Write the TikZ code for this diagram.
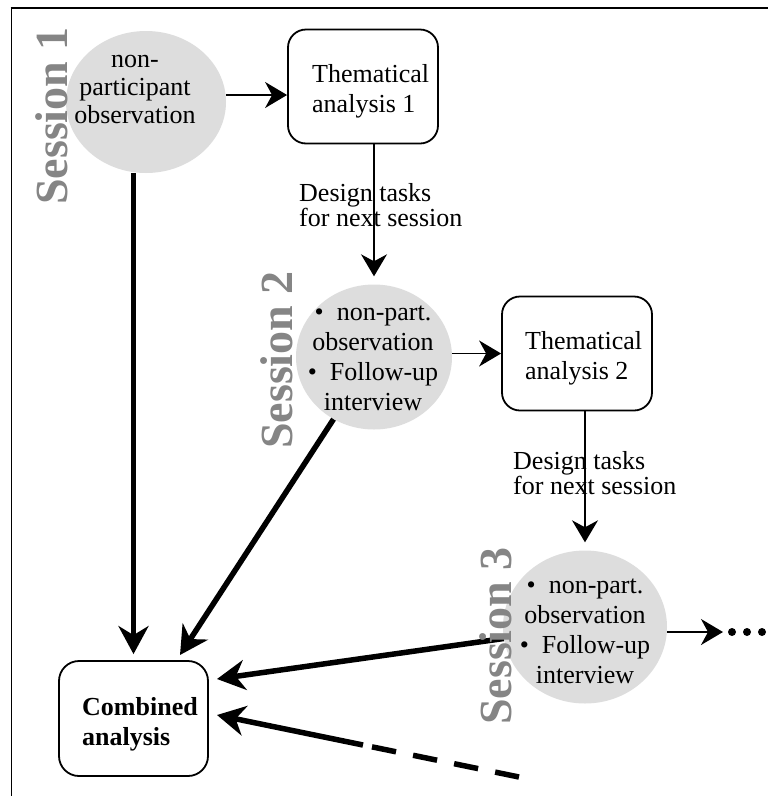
\documentclass[tikz,border=0pt]{standalone}
\usepackage{fontspec}
\setmainfont{Liberation Serif}
\usetikzlibrary{arrows.meta,shapes.geometric}
\definecolor{ellgray}{HTML}{DDDDDD}
\definecolor{sesgray}{HTML}{858585}
\begin{document}
\begin{tikzpicture}[x=1pt,y=-1pt,
  ell/.style={ellipse, fill=ellgray, inner sep=0pt},
  box/.style={draw, line width=1.8pt, rounded corners=18pt, inner sep=0pt, minimum width=150pt, minimum height=114pt},
  txt/.style={inner sep=0pt, font=\fontsize{26}{30}\selectfont},
  lbl/.style={inner sep=0pt, anchor=west, align=left, font=\fontsize{26}{25}\selectfont},
  ses/.style={inner sep=0pt, rotate=90, text=sesgray, font=\fontsize{46}{46}\selectfont\bfseries},
  thinarr/.style={line width=1.5pt, -{Stealth[length=22pt,width=26pt,inset=7pt]}},
  thickarr/.style={line width=5.5pt, -{Stealth[length=28pt,width=30pt,inset=9pt]}},
]
\useasboundingbox (0,0) rectangle (768,796);
\fill[white] (0,0) rectangle (768,796);
% frame
\draw[line width=2.5pt] (10.5,8) -- (768,8);
\draw[line width=1.8pt] (11.5,7) -- (11.5,796);

% ellipses
\node[ell, minimum width=160pt, minimum height=142pt] (e1) at (146,102) {};
\node[ell, minimum width=156pt, minimum height=145pt] (e2) at (374,357) {};
\node[ell, minimum width=164pt, minimum height=153pt] (e3) at (585,627) {};

% boxes
\node[box] (t1) at (363,86.5) {};
\node[box] (t2) at (577,353.5) {};
\node[box, rounded corners=20pt, minimum width=149pt, minimum height=115pt] (comb) at (133.5,718.5) {};

% texts
\node[txt, align=center, font=\fontsize{26}{28}\selectfont] (e1t) at (135,89) {non-\\participant\\observation};
\node[txt, align=center] (e2t) at (373,358) {\textbullet\ \ non-part.\\observation\\\textbullet\ \ Follow-up\\interview};
\node[txt, align=center] (e3t) at (585,631) {\textbullet\ \ non-part.\\observation\\\textbullet\ \ Follow-up\\interview};
\node[txt, anchor=west, align=left] (t1t) at (312,91) {Thematical\\analysis 1};
\node[txt, anchor=west, align=left] (t2t) at (525,358) {Thematical\\analysis 2};
\node[txt, anchor=west, align=left, font=\fontsize{26}{30}\selectfont\bfseries] (combt) at (82,724) {Combined\\analysis};

% thin connectors
\draw[thinarr] ([yshift=7pt]e1.east) -- ([yshift=7pt]e1.east -| t1.west);
\draw[thinarr] (e2.east |- t2.west) -- (t2.west);
\draw[thinarr, shorten >=8pt] (t1.south -| e2.north) -- (e2.north);
\draw[thinarr, shorten >=8pt] (t2.south -| e3.north) -- (e3.north);
\node[lbl] (d1) at (299,205) {Design tasks\\for next session};
\node[lbl] (d2) at (513,473) {Design tasks\\for next session};

% to dots
\coordinate (dend) at (723,632);
\draw[thinarr] (e3.east |- dend) -- (dend);
\fill (732,632) circle[radius=4pt];
\fill (747,632) circle[radius=4pt];
\fill (762,632) circle[radius=4pt];

% thick connectors
\coordinate (tB) at (180,655);
\coordinate (tC) at (217,679);
\coordinate (tD) at (217,715);
\coordinate (dm) at (363,745);
\coordinate (de) at (519,777);
\draw[thickarr, shorten >=6pt] (comb.north |- e1.south) -- (comb.north);
\draw[thickarr] (e2) -- (tB);
\draw[thickarr] (e3) -- (tC);
\draw[thickarr] (dm) -- (tD);
\draw[line width=5.5pt, dash pattern=on 24.5pt off 17.4pt, dash phase=32.7pt] (dm) -- (de);

% session labels
\node[ses] (s1) at (51.5,116) {Session 1};
\node[ses] (s2) at (276.5,360) {Session 2};
\node[ses] (s3) at (496,636) {Session 3};
\end{tikzpicture}
\end{document}
